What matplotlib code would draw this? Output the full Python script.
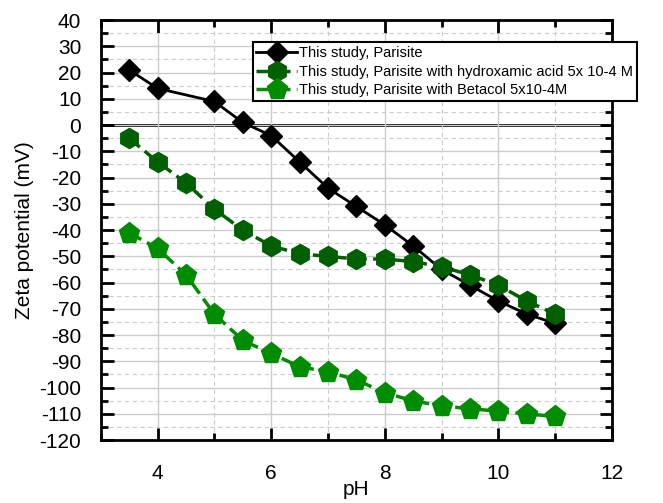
import numpy as np
import matplotlib.pyplot as plt
from matplotlib.ticker import MultipleLocator

# 数据
ph = [3.5, 4, 4.5, 5, 5.5, 6, 6.5, 7, 7.5, 8, 8.5, 9, 9.5, 10, 10.5, 11]
ph_black = [3.5, 4, 5, 5.5, 6, 6.5, 7, 7.5, 8, 8.5, 9, 9.5, 10, 10.5, 11]
zeta_parisite = [21, 14, 9, 1, -4, -14, -24, -31, -38, -46, -55, -61, -67, -72, -75.5]
zeta_hydroxamic = [-5, -14, -22, -32, -40, -46, -49, -50, -51, -51, -52, -54, -57, -61, -67, -72]
zeta_betacol = [-41, -47, -57, -72, -82, -87, -92, -94, -97, -102, -105, -107, -108, -109, -110, -111]

labels = [
    "This study, Parisite",
    "This study, Parisite with hydroxamic acid 5x 10-4 M",
    "This study, Parisite with Betacol 5x10-4M",
]

plt.rcParams['font.family'] = ['Liberation Sans', 'DejaVu Sans']
plt.rcParams['axes.unicode_minus'] = False

fig = plt.figure(figsize=(6.63, 5.03), dpi=100)
ax = fig.add_axes([0.152, 0.125, 0.771, 0.835])

# 网格
ax.grid(True, which='major', color='#cccccc', linestyle='-', linewidth=1.0, zorder=0)
ax.grid(True, which='minor', color='#cccccc', linestyle=(0, (4, 3)), linewidth=0.8, zorder=0)
ax.axhline(0, color='black', linewidth=2, zorder=1)

ax.plot(ph_black, zeta_parisite, color='black', linewidth=2, marker='D',
        markersize=11, label=labels[0], zorder=3)
ax.plot(ph, zeta_hydroxamic, color='#005f00', linewidth=2.5, linestyle=(0, (4, 1.8)),
        marker='h', markersize=14.5, label=labels[1], zorder=3)
ax.plot(ph, zeta_betacol, color='#008c00', linewidth=2.5, linestyle=(0, (4, 1.8)),
        marker='p', markersize=15.5, label=labels[2], zorder=3)

ax.set_xlim(3, 12)
ax.set_ylim(-120, 40)
ax.xaxis.set_major_locator(MultipleLocator(2))
ax.xaxis.set_minor_locator(MultipleLocator(1))
ax.yaxis.set_major_locator(MultipleLocator(10))
ax.yaxis.set_minor_locator(MultipleLocator(5))
ax.set_xticks([4, 6, 8, 10, 12])

ax.tick_params(which='both', direction='in', top=True, right=True, width=2, labelsize=15)
ax.tick_params(which='major', length=9)
ax.tick_params(which='minor', length=5)
ax.tick_params(axis='x', pad=17)
ax.tick_params(axis='y', pad=14)
for s in ax.spines.values():
    s.set_linewidth(2)

ax.set_xlabel('pH', fontsize=15, labelpad=-2)
ax.set_ylabel('Zeta potential (mV)', fontsize=15, labelpad=4)

leg = ax.legend(loc='upper left', bbox_to_anchor=(0.297, 0.947), fontsize=10.5,
                fancybox=False, framealpha=1, edgecolor='black', borderpad=0.25,
                labelspacing=0.32, handlelength=2.8, handletextpad=0.15, borderaxespad=0)
leg.get_frame().set_linewidth(1.5)

fig.savefig('out.png', dpi=100)
